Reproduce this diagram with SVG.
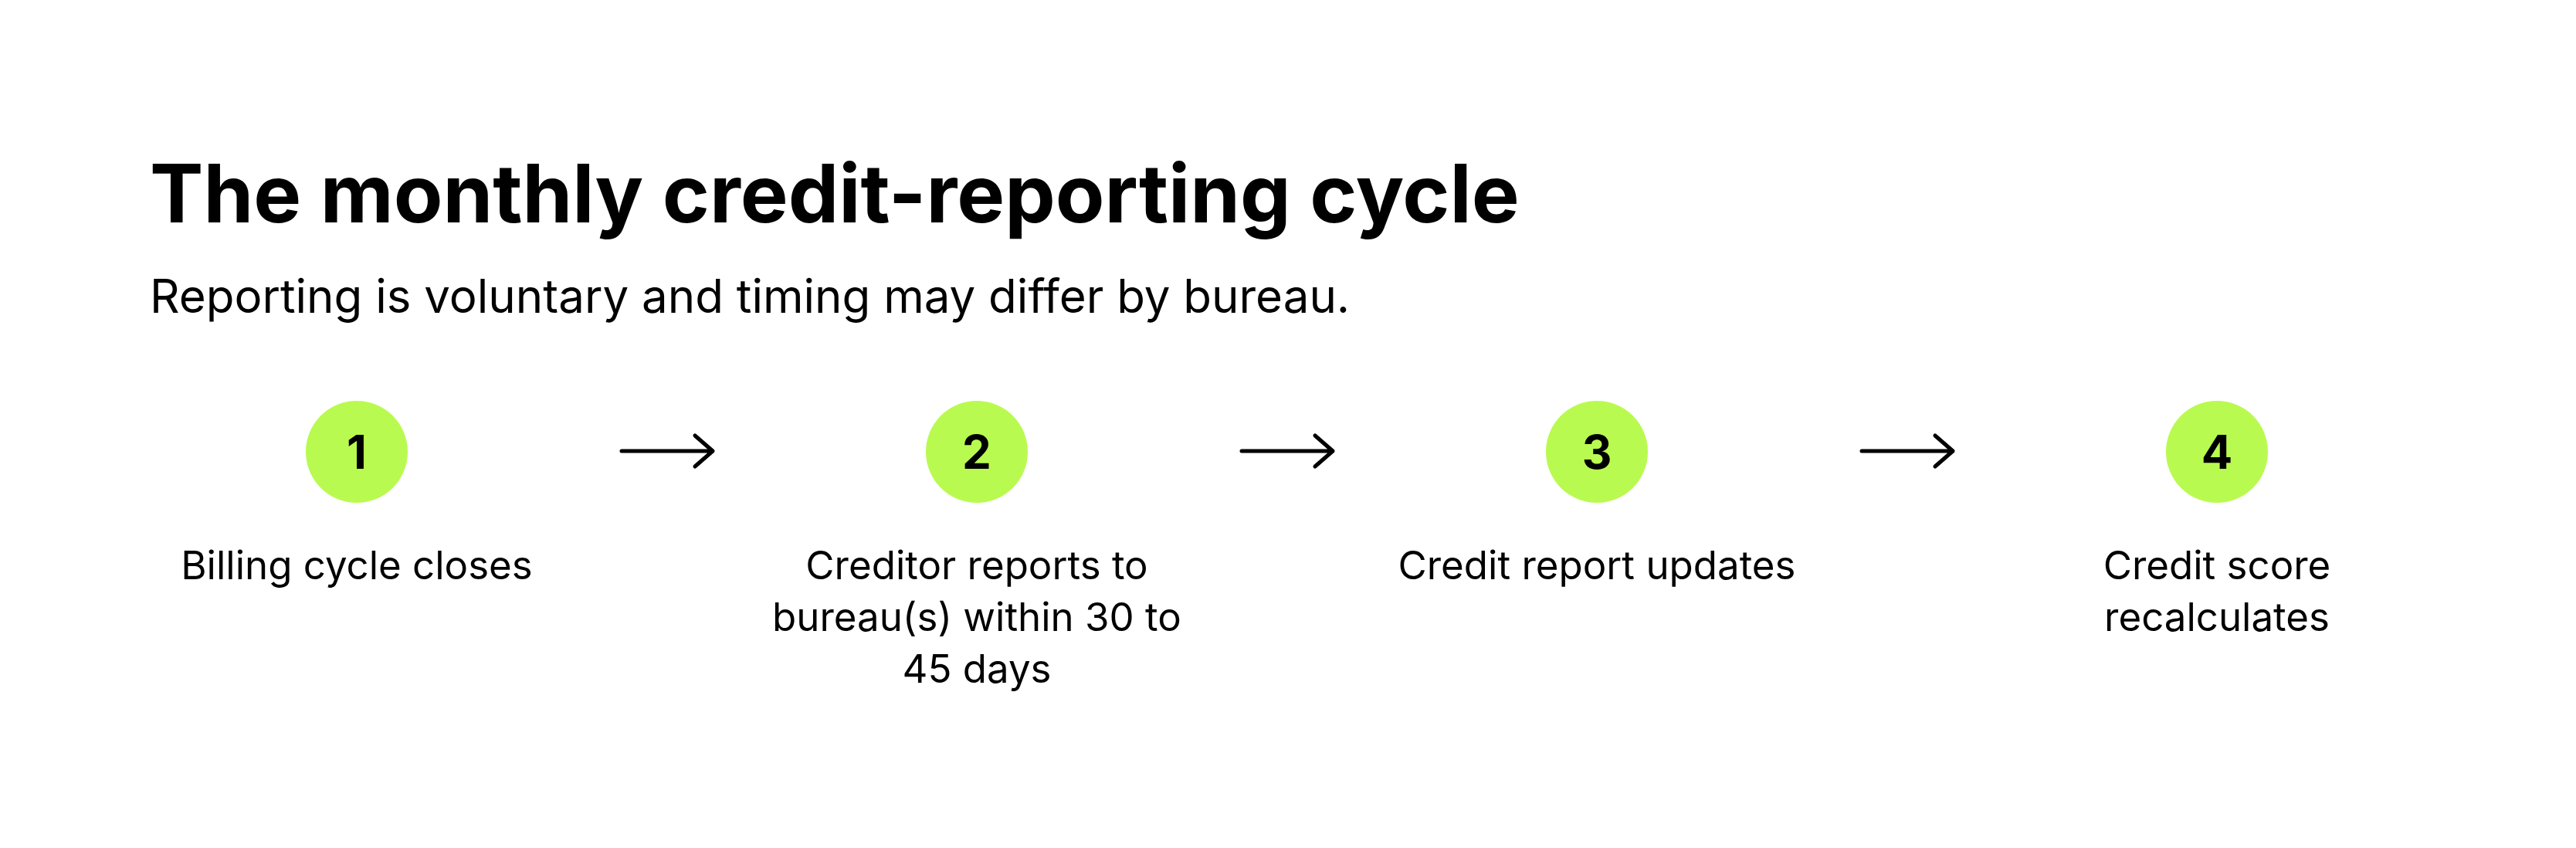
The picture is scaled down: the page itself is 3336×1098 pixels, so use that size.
<svg xmlns="http://www.w3.org/2000/svg" width="3336" height="1098" viewBox="0 0 3336 1098">
<defs>
<style>
.title{font-family:Inter,"Liberation Sans",sans-serif;font-weight:700;font-size:104px;fill:#000}
.sub{font-family:Inter,"Liberation Sans",sans-serif;font-weight:400;font-size:60px;fill:#000}
.num{font-family:Inter,"Liberation Sans",sans-serif;font-weight:700;font-size:60px;fill:#000;text-anchor:middle}
.lbl{font-family:Inter,"Liberation Sans",sans-serif;font-weight:400;font-size:51px;fill:#000;text-anchor:middle}
.dot{fill:#B9FA50}
.arr{fill:none;stroke:#000;stroke-width:5;stroke-linecap:round;stroke-linejoin:round}
</style>
</defs>
<rect width="3336" height="1098" fill="#fff"/>
<g id="header">
<text class="title" x="194" y="288">The monthly credit-reporting cycle</text>
<text class="sub" x="194" y="405">Reporting is voluntary and timing may differ by bureau.</text>
</g>
<g id="step1">
<circle class="dot" cx="462" cy="585" r="66"/>
<text class="num" x="462" y="607">1</text>
<text class="lbl" x="462" y="750">Billing cycle closes</text>
</g>
<g id="step2">
<circle class="dot" cx="1265" cy="585" r="66"/>
<text class="num" x="1265" y="607">2</text>
<text class="lbl" x="1265" y="750">Creditor reports to</text>
<text class="lbl" x="1265" y="817">bureau(s) within 30 to</text>
<text class="lbl" x="1265" y="884">45 days</text>
</g>
<g id="step3">
<circle class="dot" cx="2068" cy="585" r="66"/>
<text class="num" x="2068" y="607">3</text>
<text class="lbl" x="2068" y="750">Credit report updates</text>
</g>
<g id="step4">
<circle class="dot" cx="2871" cy="585" r="66"/>
<text class="num" x="2871" y="607">4</text>
<text class="lbl" x="2871" y="750">Credit score</text>
<text class="lbl" x="2871" y="817">recalculates</text>
</g>
<g id="connectors">
<path class="arr" d="M805 584H923M900 564L923 584L900 604"/>
<path class="arr" d="M1608 584H1726M1703 564L1726 584L1703 604"/>
<path class="arr" d="M2411 584H2529M2506 564L2529 584L2506 604"/>
</g>
</svg>
